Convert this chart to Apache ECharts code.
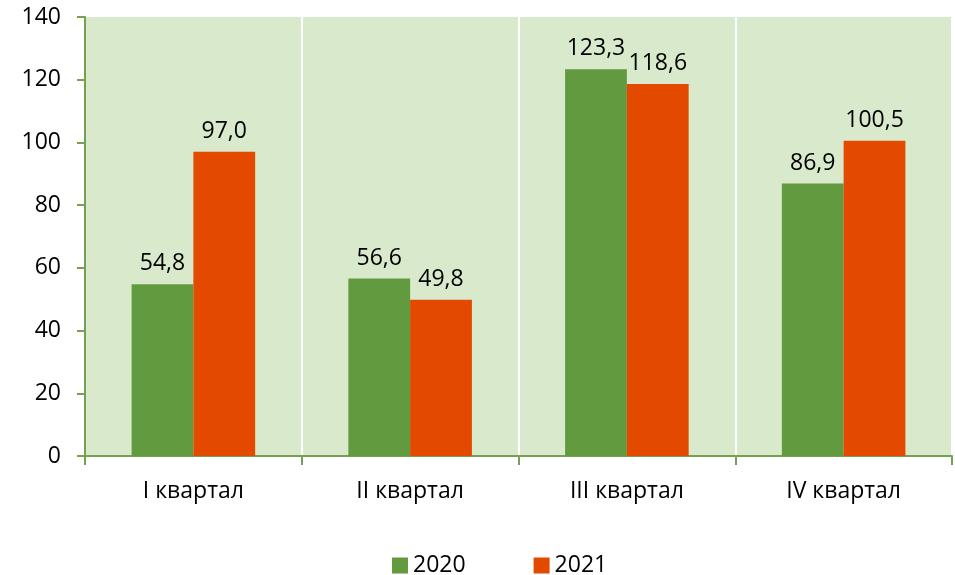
<!DOCTYPE html>
<html>
<head>
<meta charset="utf-8">
<script src="https://cdn.jsdelivr.net/npm/echarts@6/dist/echarts.min.js"></script>
<style>
  html, body { margin: 0; padding: 0; background: #fff; }
  #chart { width: 955px; height: 575px; }
</style>
</head>
<body>
<div id="chart"></div>
<script>
const categories = ['I квартал', 'II квартал', 'III квартал', 'IV квартал'];
const values2020 = [54.8, 56.6, 123.3, 86.9];
const values2021 = [97.0, 49.8, 118.6, 100.5];
const seriesNames = ['2020', '2021'];

const font = '"Open Sans", "Noto Sans", sans-serif';
const axisGreen = '#77a152';
const fs = 23;

const chart = echarts.init(document.getElementById('chart'));

const labelFmt = function (p) {
  return p.value.toFixed(1).replace('.', ',');
};

chart.setOption({
  animation: false,
  textStyle: { fontFamily: font },
  legend: {
    top: 549,
    left: 387,
    itemWidth: 16,
    itemHeight: 16,
    itemGap: 68,
    icon: 'rect',
    textStyle: { fontSize: fs, color: '#000', fontFamily: font },
    data: seriesNames
  },
  grid: {
    left: 85,
    right: 3,
    top: 17,
    bottom: 119,
    show: true,
    backgroundColor: '#d9e9cc',
    borderWidth: 0
  },
  xAxis: {
    type: 'category',
    data: categories,
    axisLine: { lineStyle: { color: axisGreen, width: 2 } },
    axisTick: { show: true, length: 9, lineStyle: { color: axisGreen, width: 2 } },
    axisLabel: { fontSize: fs, color: '#000', margin: 24, fontFamily: font },
    splitLine: { show: true, lineStyle: { color: '#ffffff', width: 2 } }
  },
  yAxis: {
    type: 'value',
    min: 0,
    max: 140,
    interval: 20,
    axisLine: { show: true, lineStyle: { color: axisGreen, width: 2 } },
    axisTick: { show: true, length: 8, lineStyle: { color: axisGreen, width: 2 } },
    axisLabel: { fontSize: fs, color: '#000', margin: 24, fontFamily: font },
    splitLine: { show: false }
  },
  series: [
    {
      name: seriesNames[0],
      type: 'bar',
      data: values2020,
      barGap: '0%',
      barCategoryGap: '43%',
      itemStyle: { color: '#629a3f' },
      label: {
        show: true,
        position: 'top',
        distance: 9,
        fontSize: fs,
        color: '#000',
        fontFamily: font,
        formatter: labelFmt
      }
    },
    {
      name: seriesNames[1],
      type: 'bar',
      data: values2021,
      barGap: '0%',
      barCategoryGap: '43%',
      itemStyle: { color: '#e34a00' },
      label: {
        show: true,
        position: 'top',
        distance: 9,
        fontSize: fs,
        color: '#000',
        fontFamily: font,
        formatter: labelFmt
      }
    }
  ]
});
</script>
</body>
</html>
